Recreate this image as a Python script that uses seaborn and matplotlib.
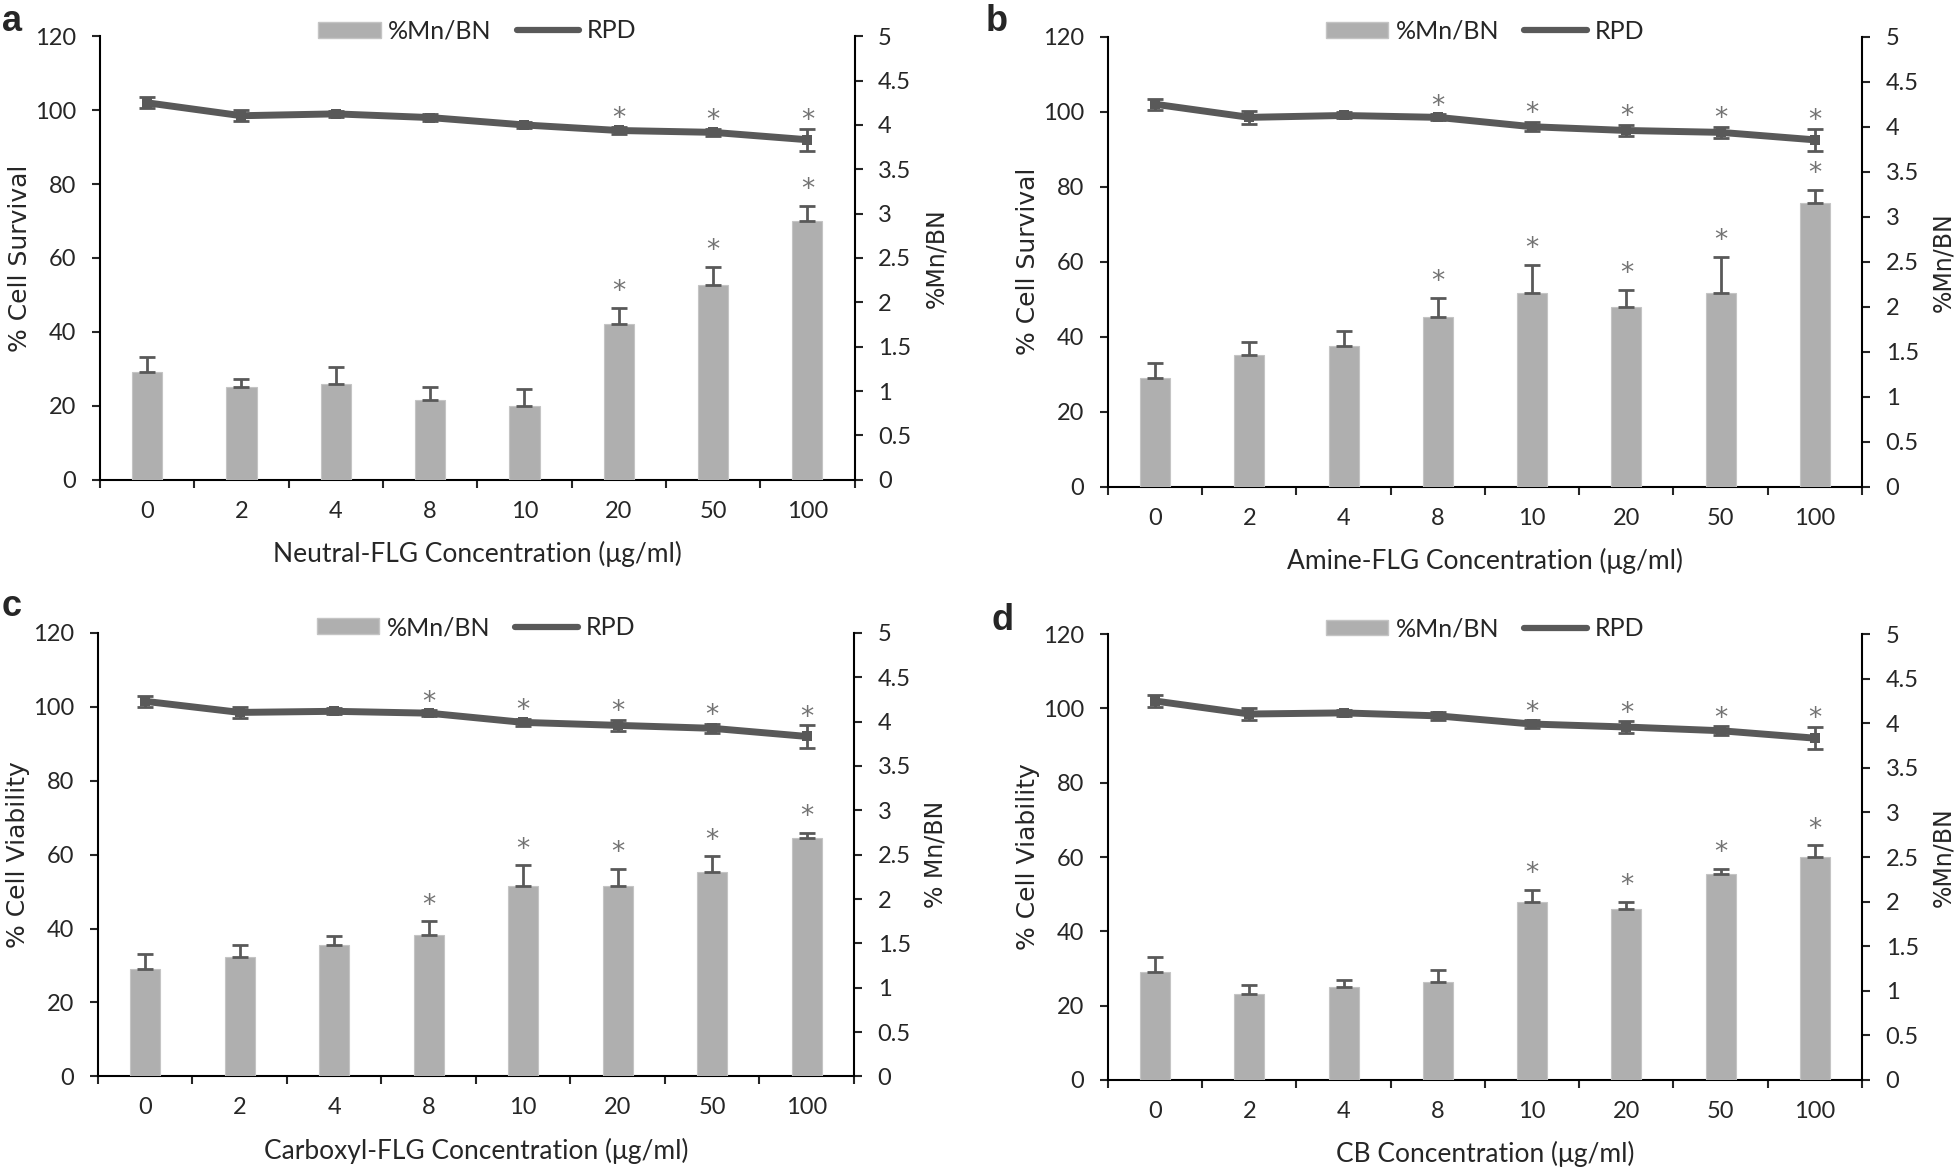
import numpy as np
import matplotlib
matplotlib.use("Agg")
import matplotlib.pyplot as plt
from matplotlib.patches import Patch
from matplotlib.lines import Line2D
from matplotlib.ticker import FuncFormatter, FixedLocator
import seaborn as sns

sns.set_style("ticks")
plt.rcParams['font.family'] = ['Lato', 'DejaVu Sans']
plt.rcParams['axes.unicode_minus'] = False

# ------------------------------------------------------------
# 数据
# ------------------------------------------------------------
conc = ['0', '2', '4', '8', '10', '20', '50', '100']

# RPD (左轴, %)
rpd_a = [102, 98.5, 99, 98, 96, 94.5, 94, 92]
rpd_a_err = [1.5, 1.5, 0.8, 0.9, 0.8, 1.0, 1.0, 3.0]
rpd_b = [102, 98.5, 99, 98.5, 96, 95, 94.5, 92.5]
rpd_b_err = [1.5, 1.8, 0.8, 0.8, 1.2, 1.5, 1.5, 3.0]
rpd_c = [101.5, 98.5, 98.8, 98.3, 95.8, 95, 94.2, 92]
rpd_c_err = [1.5, 1.5, 0.8, 0.8, 1.0, 1.5, 1.2, 3.0]
rpd_d = [102, 98.5, 98.8, 98, 95.8, 95, 94, 92]
rpd_d_err = [1.5, 1.5, 0.8, 1.0, 1.0, 1.5, 1.2, 3.0]

# %Mn/BN (右轴)
mn_a = [1.21, 1.04, 1.08, 0.90, 0.83, 1.75, 2.19, 2.92]
mn_a_err = [0.17, 0.10, 0.19, 0.15, 0.19, 0.19, 0.21, 0.17]
mn_b = [1.21, 1.46, 1.56, 1.89, 2.15, 2.00, 2.15, 3.15]
mn_b_err = [0.17, 0.15, 0.17, 0.21, 0.31, 0.19, 0.40, 0.15]
mn_c = [1.21, 1.35, 1.48, 1.60, 2.15, 2.15, 2.31, 2.69]
mn_c_err = [0.17, 0.13, 0.10, 0.15, 0.23, 0.19, 0.17, 0.06]
mn_d = [1.21, 0.96, 1.04, 1.10, 2.00, 1.92, 2.31, 2.50]
mn_d_err = [0.17, 0.10, 0.08, 0.13, 0.13, 0.08, 0.06, 0.13]

# 显著性标记 (* 所在的浓度)
star_rpd_a = ['20', '50', '100']
star_mn_a = ['20', '50', '100']
star_rpd_b = ['8', '10', '20', '50', '100']
star_mn_b = ['8', '10', '20', '50', '100']
star_rpd_c = ['8', '10', '20', '50', '100']
star_mn_c = ['8', '10', '20', '50', '100']
star_rpd_d = ['10', '20', '50', '100']
star_mn_d = ['10', '20', '50', '100']

xlabels = ['Neutral-FLG Concentration (\u03bcg/ml)', 'Amine-FLG Concentration (\u03bcg/ml)',
           'Carboxyl-FLG Concentration (\u03bcg/ml)', 'CB Concentration (\u03bcg/ml)']
ylabels = ['% Cell Survival', '% Cell Survival', '% Cell Viability', '% Cell Viability']
y2labels = ['%Mn/BN', '%Mn/BN', '% Mn/BN', '%Mn/BN']
letters = ['a', 'b', 'c', 'd']

BAR_COLOR = '#afafaf'
LINE_COLOR = '#595959'
STAR_COLOR = '#737373'
TICK_FS = 17
LABEL_FONT = ['DejaVu Sans']


def draw_panel(ax, rpd, rpd_err, mn, mn_err, star_rpd, star_mn, xlabel, ylabel, y2label):
    pos = np.arange(len(conc))
    ax2 = ax.twinx()

    # 柱状图 (%Mn/BN, 右轴)
    sns.barplot(x=pos, y=mn, ax=ax2, color=BAR_COLOR, width=0.32, saturation=1,
                errorbar=None, native_scale=True, edgecolor='#c4c4c4', linewidth=0.8)
    ax2.errorbar(pos, mn, yerr=[np.zeros(len(mn)), mn_err], fmt='none',
                 ecolor=LINE_COLOR, elinewidth=2, capsize=6, capthick=2)

    # 折线 (RPD, 左轴)
    ax.errorbar(pos, rpd, yerr=rpd_err, fmt='none', ecolor=LINE_COLOR,
                elinewidth=2, capsize=6, capthick=2, zorder=3)
    sns.lineplot(x=pos, y=rpd, ax=ax, color=LINE_COLOR, lw=5, marker='s',
                 markersize=7, markeredgewidth=0, zorder=4)

    # 显著性星号
    for i, c in enumerate(conc):
        if c in star_rpd:
            ax.annotate('*', (pos[i], rpd[i] + rpd_err[i] + 4.3), xytext=(0, -11),
                        textcoords='offset points', ha='center', va='baseline',
                        color=STAR_COLOR, fontsize=19, family=LABEL_FONT)
        if c in star_mn:
            ax2.annotate('*', (pos[i], mn[i] + mn_err[i] + 0.27), xytext=(0, -11),
                         textcoords='offset points', ha='center', va='baseline',
                         color=STAR_COLOR, fontsize=19, family=LABEL_FONT)

    ax.set_ylim(0, 120)
    ax.set_yticks(np.arange(0, 121, 20))
    ax2.set_ylim(0, 5)
    ax2.set_yticks(np.arange(0, 5.01, 0.5))
    ax2.yaxis.set_major_formatter(FuncFormatter(lambda v, p: f"{v:g}"))
    ax.set_xlim(-0.5, len(conc) - 0.5)
    ax.set_xticks(pos)
    ax.set_xticklabels(conc)
    ax.xaxis.set_minor_locator(FixedLocator(np.arange(-0.5, len(conc), 1.0)))

    ax.tick_params(axis='x', which='major', length=0, pad=15, labelsize=TICK_FS)
    ax.tick_params(axis='x', which='minor', length=6, width=1.5, direction='out')
    ax.tick_params(axis='y', length=6, width=1.5, pad=11, labelsize=TICK_FS)
    ax2.tick_params(axis='y', length=6, width=1.5, pad=11, labelsize=TICK_FS)

    for a in (ax, ax2):
        a.spines['top'].set_visible(False)
        for s in a.spines.values():
            s.set_linewidth(1.5)
            s.set_color('black')
    ax.spines['right'].set_visible(False)
    ax2.spines['left'].set_visible(False)
    ax2.spines['bottom'].set_visible(False)
    ax2.set_xlabel('')

    ax.set_xlabel(xlabel, fontsize=19, labelpad=14)
    ax.set_ylabel(ylabel, fontsize=18, labelpad=2, family=LABEL_FONT)
    ax2.set_ylabel(y2label, fontsize=17, labelpad=9, family=LABEL_FONT)

    handles = [Patch(facecolor=BAR_COLOR, edgecolor='#c4c4c4'),
               Line2D([0], [0], color=LINE_COLOR, lw=4.5, solid_capstyle='round')]
    ax2.legend(handles, ['%Mn/BN', 'RPD'], loc='center', bbox_to_anchor=(0.5, 1.012),
               ncol=2, frameon=False, fontsize=18, handlelength=2.5, handleheight=0.6,
               handletextpad=0.3, columnspacing=1.0)
    return ax2


fig = plt.figure(figsize=(19.6, 11.7), dpi=100)
rects = [[0.051, 0.590, 0.385, 0.379],
         [0.5653, 0.584, 0.3847, 0.3846],
         [0.050, 0.080, 0.3857, 0.379],
         [0.5653, 0.077, 0.3847, 0.381]]
data = [(rpd_a, rpd_a_err, mn_a, mn_a_err, star_rpd_a, star_mn_a),
        (rpd_b, rpd_b_err, mn_b, mn_b_err, star_rpd_b, star_mn_b),
        (rpd_c, rpd_c_err, mn_c, mn_c_err, star_rpd_c, star_mn_c),
        (rpd_d, rpd_d_err, mn_d, mn_d_err, star_rpd_d, star_mn_d)]
letter_pos = [(0.001, 0.997), (0.503, 0.997), (0.001, 0.497), (0.506, 0.485)]

for k in range(4):
    ax = fig.add_axes(rects[k])
    draw_panel(ax, *data[k], xlabels[k], ylabels[k], y2labels[k])
    fig.text(letter_pos[k][0], letter_pos[k][1], letters[k], fontsize=26, fontweight='bold',
             family=['Liberation Sans', 'DejaVu Sans'], ha='left', va='top')

fig.savefig('out.png', dpi=100)
